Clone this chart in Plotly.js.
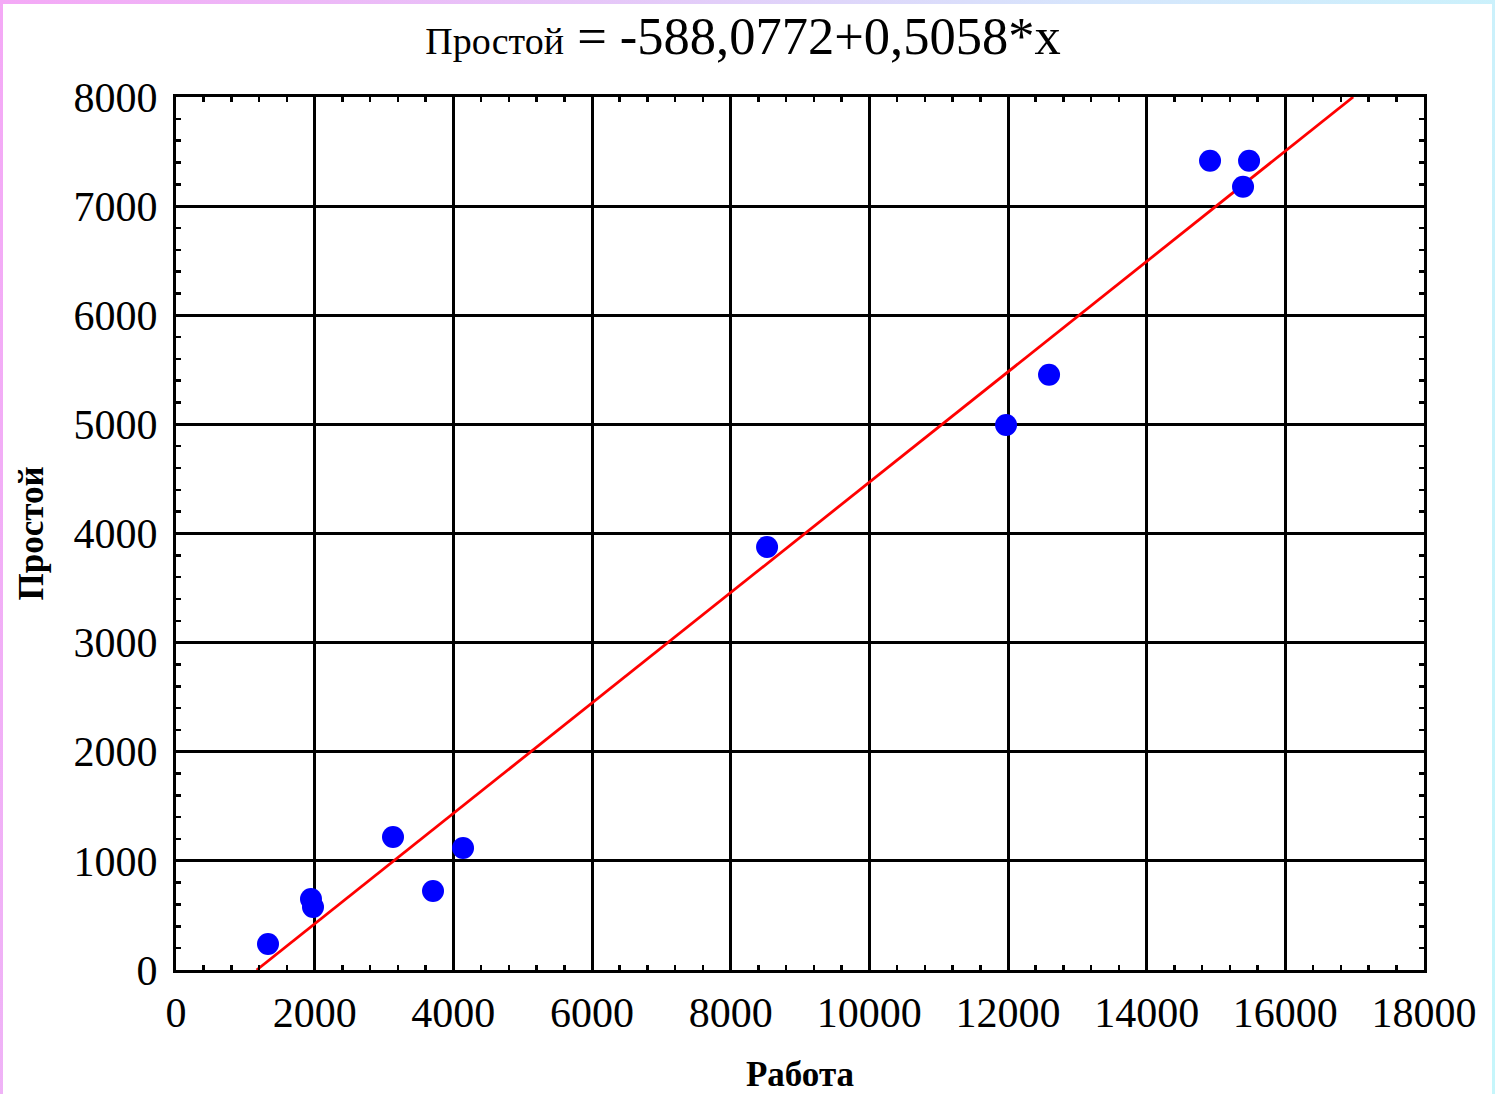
<!DOCTYPE html>
<html>
<head>
<meta charset="utf-8">
<script src="https://cdn.plot.ly/plotly-3.0.1.min.js"></script>
<style>
  html, body { margin: 0; padding: 0; width: 1495px; height: 1094px; overflow: hidden; }
  body { background: linear-gradient(100deg, #f4a9f6 0%, #e6c6f8 35%, #d6e6fc 65%, #c6f6fb 100%); position: relative; }
  #inner { position: absolute; left: 3px; top: 4px; right: 3px; bottom: 0; background: #ffffff; }
  #chart { position: absolute; left: 0; top: 0; width: 1495px; height: 1094px; }
</style>
</head>
<body>
<div id="inner"></div>
<div id="chart"></div>
<script>
// Observed points (Работа, Простой)
const rabota  = [1327, 1947, 1976, 3130, 3707, 4140, 8525, 11972, 12592, 14914, 15390, 15477];
const prostoy = [238, 651, 577, 1219, 724, 1118, 3877, 4995, 5454, 7415, 7177, 7415];

// Regression line endpoints (y = -588.0772 + 0.5058x)
const fitX = [1163, 16979];
const fitY = [0, 8000];

const titleText = '<span style="font-size:38px">Простой</span> = -588,0772+0,5058*x';
const xTitle = 'Работа';
const yTitle = 'Простой';

const serif = 'Liberation Serif, Times New Roman, serif';

const traces = [
  {
    x: fitX, y: fitY, type: 'scatter', mode: 'lines',
    line: { color: '#ff0000', width: 2.8 },
    hoverinfo: 'skip', showlegend: false
  },
  {
    x: rabota, y: prostoy, type: 'scatter', mode: 'markers',
    marker: { color: '#0000ff', size: 22 },
    showlegend: false
  }
];

const axisCommon = {
  showline: true, linecolor: '#000', linewidth: 3, mirror: 'ticks',
  showgrid: true, gridcolor: '#000', gridwidth: 3,
  zeroline: false,
  ticks: 'inside', ticklen: 6, tickwidth: 2, tickcolor: '#000',
  tickfont: { family: serif, size: 42, color: '#000' },
  exponentformat: 'none', separatethousands: false, tickformat: 'd',
  fixedrange: true
};

const layout = {
  width: 1495, height: 1094,
  paper_bgcolor: 'rgba(0,0,0,0)',
  plot_bgcolor: '#ffffff',
  margin: { l: 176, r: 71, t: 97, b: 124 },
  title: {
    text: titleText,
    font: { family: serif, size: 52.5, color: '#000' },
    x: 0.497, xanchor: 'center', y: 0.967, yanchor: 'middle'
  },
  xaxis: Object.assign({}, axisCommon, {
    range: [0, 18000], dtick: 2000, tick0: 0,
    ticklabelstandoff: 4,
    minor: { dtick: 400, ticks: 'inside', ticklen: 5, tickwidth: 2.5, tickcolor: '#000', showgrid: false },
    title: { text: xTitle, font: { family: serif, size: 35, color: '#000', weight: 'bold' }, standoff: 34 }
  }),
  yaxis: Object.assign({}, axisCommon, {
    range: [0, 8000], dtick: 1000, tick0: 0,
    ticklabelstandoff: 7,
    minor: { dtick: 200, ticks: 'inside', ticklen: 5, tickwidth: 2.5, tickcolor: '#000', showgrid: false },
    title: { text: yTitle, font: { family: serif, size: 35, color: '#000', weight: 'bold' }, standoff: 20 }
  })
};

Plotly.newPlot('chart', traces, layout, { displayModeBar: false, staticPlot: true });
</script>
</body>
</html>
